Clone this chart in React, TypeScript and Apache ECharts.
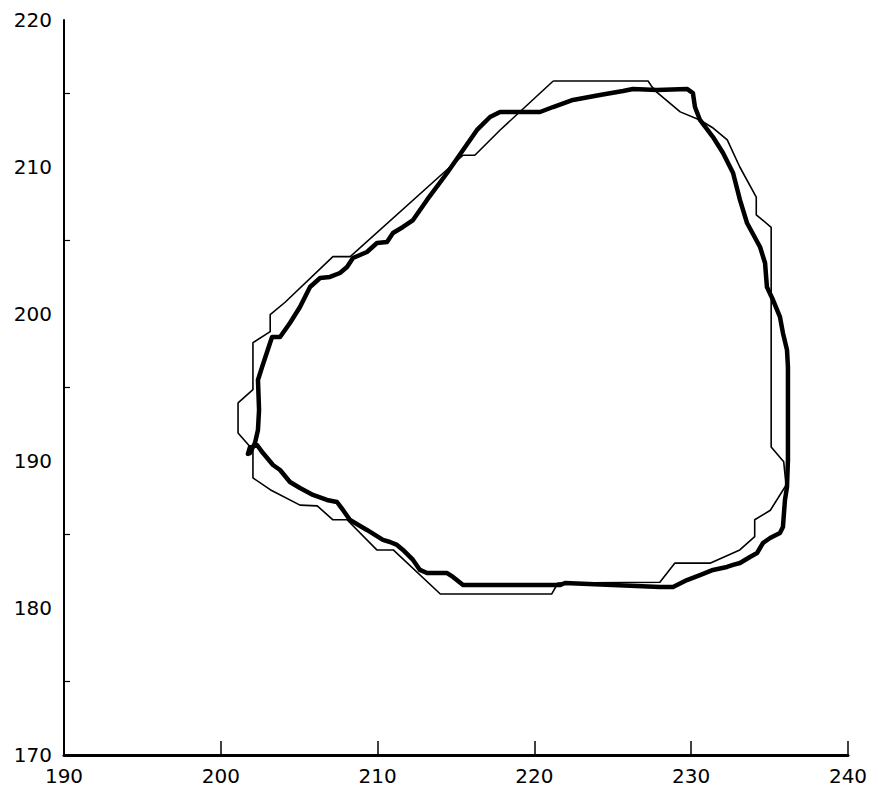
import React, { useEffect, useRef } from "react";
import * as echarts from "echarts";

// Axis ranges / ticks
const xMin = 190;
const xMax = 240;
const yMin = 170;
const yMax = 220;
const yTickValues = [175, 185, 195, 205, 215];

// Thin polygon outline (x, y)
const thinX = [221.2, 227.25, 227.5, 227.8, 229.3, 230.55, 231.4, 232.3, 233.1, 234.15, 234.15, 235.1, 235.1, 235.9, 236.05, 235.05, 234.05, 234.05, 233.1, 231.2, 228.95, 228.0, 221.5, 221.1, 214.0, 211.0, 209.95, 208.05, 207.15, 206.15, 205.05, 203.15, 202.05, 202.05, 201.1, 201.1, 202.05, 202.05, 203.15, 203.15, 204.1, 207.15, 208.25, 215.45, 216.2, 217.8, 221.2];
const thinY = [215.85, 215.85, 215.45, 215.1, 213.75, 213.2, 212.65, 211.85, 210.0, 207.95, 206.75, 205.9, 190.95, 189.95, 188.35, 186.65, 186.0, 184.85, 183.95, 183.05, 183.05, 181.75, 181.7, 180.95, 180.95, 183.95, 183.95, 186.0, 186.0, 186.95, 187.0, 188.05, 188.85, 190.75, 191.9, 193.95, 194.85, 198.05, 198.8, 199.95, 200.8, 203.9, 203.9, 210.8, 210.8, 212.5, 215.85];

// Thick wavy outline (x, y)
const thickX = [201.86, 202.18, 202.37, 202.44, 202.37, 202.63, 203.14, 203.27, 203.78, 204.41, 205.05, 205.69, 206.33, 206.96, 207.6, 208.05, 208.43, 209.32, 209.96, 210.6, 210.98, 211.62, 212.26, 213.15, 214.43, 215.45, 216.34, 217.17, 217.81, 220.36, 221.19, 222.46, 224.18, 225.65, 226.29, 227.82, 229.73, 230.11, 230.24, 230.56, 231.39, 232.03, 232.67, 233.11, 233.56, 234.39, 234.71, 234.83, 235.22, 235.66, 235.85, 236.11, 236.17, 236.17, 236.11, 235.98, 235.85, 235.66, 235.03, 234.58, 234.2, 233.75, 233.11, 232.67, 232.28, 231.39, 230.56, 229.73, 228.84, 228.01, 221.95, 221.63, 215.45, 214.81, 214.43, 213.15, 212.7, 212.26, 211.62, 211.24, 210.79, 210.34, 209.32, 208.24, 207.79, 207.41, 206.77, 205.88, 205.05, 204.41, 203.78, 203.33, 202.69, 202.31, 201.86, 201.73];
const thickY = [190.54, 191.22, 192.11, 193.47, 195.51, 196.39, 198.03, 198.44, 198.44, 199.39, 200.48, 201.84, 202.45, 202.52, 202.79, 203.2, 203.81, 204.22, 204.83, 204.9, 205.51, 205.92, 206.39, 207.76, 209.59, 211.16, 212.52, 213.4, 213.74, 213.74, 214.08, 214.56, 214.9, 215.17, 215.31, 215.24, 215.31, 215.03, 214.08, 213.2, 212.04, 210.95, 209.59, 207.76, 206.19, 204.56, 203.47, 201.84, 200.95, 199.8, 198.71, 197.55, 196.39, 190.07, 188.23, 187.35, 185.51, 185.1, 184.76, 184.42, 183.74, 183.47, 183.06, 182.93, 182.79, 182.59, 182.24, 181.9, 181.43, 181.43, 181.7, 181.56, 181.56, 182.11, 182.38, 182.38, 182.59, 183.27, 183.95, 184.29, 184.49, 184.63, 185.31, 185.99, 186.67, 187.21, 187.35, 187.69, 188.16, 188.57, 189.39, 189.73, 190.54, 191.09, 190.95, 190.48];

const pairs = (xs: number[], ys: number[]) => xs.map((x, i) => [x, ys[i]]);

export default function App() {
  const ref = useRef<HTMLDivElement>(null);
  useEffect(() => {
    if (!ref.current) return;
    const chart = echarts.init(ref.current, null, { renderer: "svg" });
    const font = "DejaVu Sans";
    chart.setOption({
      animation: false,
      backgroundColor: "#ffffff",
      grid: { left: 64, right: 25, top: 20, bottom: 38, containLabel: false },
      xAxis: {
        type: "value",
        min: xMin,
        max: xMax,
        interval: 10,
        axisLine: { show: true, onZero: false, lineStyle: { color: "#000", width: 3 } },
        axisTick: { show: true, inside: true, length: 14, lineStyle: { color: "#000", width: 1.5 } },
        axisLabel: { color: "#000", fontFamily: font, fontSize: 20, margin: 11 },
        splitLine: { show: false },
      },
      yAxis: {
        type: "value",
        min: yMin,
        max: yMax,
        interval: 10,
        axisLine: { show: true, onZero: false, lineStyle: { color: "#000", width: 2 } },
        axisTick: {
          show: true,
          inside: true,
          length: 6,
          customValues: yTickValues,
          lineStyle: { color: "#000", width: 1.2 },
        },
        axisLabel: { color: "#000", fontFamily: font, fontSize: 20, margin: 12 },
        splitLine: { show: false },
      },
      series: [
        {
          type: "line",
          data: pairs(thinX, thinY),
          showSymbol: false,
          symbol: "none",
          lineStyle: { color: "#000", width: 1.6 },
          z: 2,
        },
        {
          type: "line",
          data: pairs(thickX, thickY),
          showSymbol: false,
          symbol: "none",
          lineStyle: { color: "#000", width: 4.5, join: "round", cap: "round" },
          z: 3,
        },
      ],
    });
    return () => chart.dispose();
  }, []);
  return (
    <div
      ref={ref}
      style={{ position: "fixed", left: 0, top: 0, width: 873, height: 793, background: "#fff" }}
    />
  );
}
